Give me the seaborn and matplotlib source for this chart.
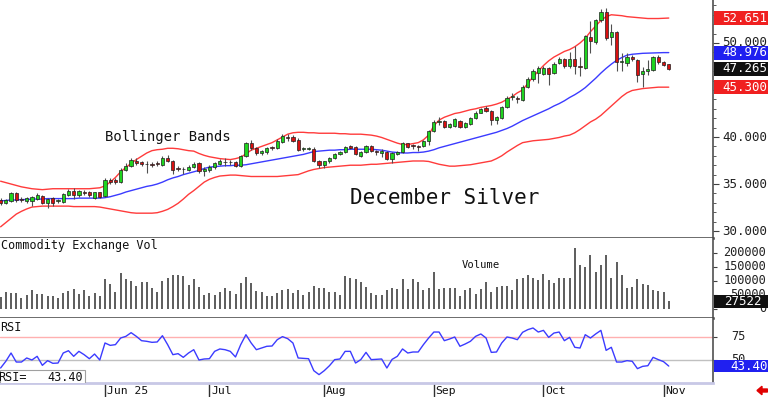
import numpy as np
import pandas as pd
import matplotlib
matplotlib.use("Agg")
import matplotlib.pyplot as plt
from matplotlib.patches import Rectangle, FancyArrow
import seaborn as sns

# ------------------------------------------------------------------
# Data (one value per trading day, May 2 .. Nov 4)
# ------------------------------------------------------------------
opens = [33.3, 32.95, 33.2, 34.0, 33.4, 33.2, 33.2, 33.4, 33.7, 33.0,
         33.5, 33.2, 33.1, 33.8, 34.3, 33.8, 34.2, 34.1, 33.5, 34.1,
         33.7, 35.4, 35.4, 35.2, 36.5, 36.9, 37.5, 37.3, 37.15, 37.1,
         37.2, 37.0, 37.8, 37.5, 36.7, 36.6, 36.5, 36.8, 37.2, 36.4,
         36.5, 36.8, 37.1, 37.35, 37.3, 37.3, 36.9, 38.0, 39.4, 38.8,
         38.3, 38.4, 38.9, 38.8, 39.5, 40.0, 40.0, 39.7, 38.7, 38.75,
         38.7, 37.5, 37.0, 37.4, 37.8, 38.2, 38.4, 39.0, 38.9, 38.0,
         38.4, 39.0, 38.45, 38.3, 38.4, 37.7, 38.2, 38.4, 39.35, 39.1,
         39.0, 39.0, 39.6, 40.6, 41.6, 41.7, 41.1, 41.2, 41.75, 41.1,
         41.4, 42.0, 42.6, 43.1, 42.8, 41.8, 42.0, 43.2, 44.3, 44.2,
         43.9, 45.3, 46.2, 46.8, 46.7, 47.3, 46.8, 47.9, 48.3, 47.6,
         48.3, 47.5, 47.3, 50.6, 50.1, 52.4, 53.3, 50.6, 51.2, 47.95,
         47.9, 48.5, 48.2, 46.7, 47.0, 47.1, 48.5, 48.0, 47.75]
closes = [32.95, 33.3, 34.0, 33.25, 33.3, 33.5, 33.6, 33.8, 32.95, 33.4,
          33.0, 33.25, 33.9, 34.3, 33.8, 34.3, 34.0, 33.8, 34.1, 33.6,
          35.4, 35.2, 35.2, 36.5, 36.9, 37.6, 37.2, 37.1, 37.1, 37.0,
          37.15, 37.8, 37.5, 36.5, 36.65, 36.55, 36.8, 37.1, 36.35, 36.6,
          36.85, 37.2, 37.5, 37.3, 37.3, 36.9, 38.0, 39.4, 38.8, 38.3,
          38.5, 38.8, 38.8, 39.6, 40.1, 39.9, 39.6, 38.65, 38.8, 38.8,
          37.5, 37.0, 37.4, 37.8, 38.2, 38.4, 38.9, 38.85, 38.2, 38.4,
          39.0, 38.5, 38.4, 38.5, 37.7, 38.3, 38.4, 39.35, 38.9, 39.05,
          38.95, 39.6, 40.6, 41.6, 41.7, 41.1, 41.4, 41.9, 41.1, 41.5,
          42.0, 42.6, 43.0, 42.8, 41.8, 42.1, 43.2, 44.2, 44.4, 44.0,
          45.3, 46.2, 47.05, 47.3, 47.3, 46.7, 47.8, 48.3, 47.6, 48.3,
          47.5, 47.45, 50.7, 50.2, 52.4, 53.3, 50.5, 51.2, 48.0, 48.0,
          48.5, 48.3, 46.6, 47.0, 47.2, 48.5, 47.95, 47.7, 47.265]
highs = [33.5, 33.4, 34.1, 34.1, 33.6, 33.6, 33.7, 34.0, 33.8, 33.5,
         33.6, 33.4, 34.0, 34.5, 34.6, 34.4, 34.4, 34.3, 34.2, 34.2,
         35.6, 35.6, 35.6, 36.7, 37.2, 37.8, 37.8, 37.4, 37.4, 37.3,
         37.4, 38.0, 38.1, 37.6, 36.9, 36.8, 37.0, 37.3, 37.3, 36.8,
         37.0, 37.3, 37.7, 37.8, 37.6, 37.4, 38.1, 39.5, 39.7, 38.9,
         38.6, 38.9, 39.0, 39.8, 40.3, 40.3, 40.2, 39.9, 38.9, 38.9,
         38.9, 37.6, 37.5, 37.9, 38.3, 38.5, 39.0, 39.2, 39.0, 38.5,
         39.1, 39.1, 38.6, 38.7, 38.5, 38.4, 38.5, 39.5, 39.4, 39.3,
         39.2, 39.7, 40.7, 41.8, 42.1, 41.8, 41.5, 42.0, 41.8, 41.6,
         42.1, 42.8, 43.1, 43.3, 42.9, 42.2, 43.3, 44.4, 44.7, 44.4,
         45.5, 46.4, 47.2, 47.5, 47.5, 47.4, 48.0, 48.5, 48.4, 49.0,
         49.7, 48.5, 50.9, 52.3, 52.6, 53.6, 53.7, 52.0, 51.3, 48.9,
         48.9, 48.7, 48.3, 47.4, 48.2, 48.6, 48.7, 48.1, 47.8]
lows = [32.8, 32.9, 33.1, 33.1, 33.1, 33.0, 32.7, 33.3, 32.9, 32.4,
        32.7, 33.0, 33.0, 33.7, 33.4, 33.6, 33.8, 33.6, 33.4, 33.5,
        33.6, 35.0, 35.0, 35.1, 36.4, 36.8, 37.0, 36.9, 36.2, 36.8,
        36.9, 36.9, 37.3, 36.1, 36.4, 36.1, 36.4, 36.7, 36.2, 35.9,
        36.3, 36.6, 37.0, 36.9, 37.0, 36.8, 36.8, 37.9, 38.6, 38.1,
        38.1, 38.2, 38.6, 38.7, 39.4, 39.6, 39.5, 38.5, 38.5, 38.6,
        37.3, 36.7, 36.7, 37.2, 37.7, 38.1, 38.3, 38.7, 38.1, 37.9,
        38.3, 38.4, 38.1, 37.9, 37.6, 37.2, 38.1, 38.3, 38.8, 38.7,
        38.5, 38.9, 39.2, 40.5, 41.3, 41.0, 41.0, 41.1, 41.0, 41.0,
        41.3, 41.9, 42.5, 42.7, 41.3, 41.4, 41.9, 43.1, 43.9, 43.6,
        43.8, 45.2, 46.0, 45.7, 46.6, 45.5, 46.7, 47.8, 47.3, 47.3,
        46.7, 46.5, 47.2, 48.9, 49.9, 52.2, 50.3, 49.8, 47.0, 47.0,
        47.5, 48.1, 45.9, 45.3, 46.6, 47.0, 47.8, 47.5, 47.1]

bb_upper = [35.3, 35.15, 35.0, 34.85, 34.7, 34.6, 34.5, 34.45, 34.4, 34.45,
            34.5, 34.5, 34.5, 34.5, 34.5, 34.5, 34.5, 34.5, 34.55, 34.6,
            34.8, 35.2, 35.7, 36.3, 36.75, 37.2, 37.6, 37.95, 38.3, 38.55,
            38.65, 38.7, 38.8, 38.8, 38.75, 38.65, 38.55, 38.5, 38.25, 38.05,
            37.9, 37.8, 37.7, 37.65, 37.6, 37.7, 37.85, 38.2, 38.6, 38.8,
            39.0, 39.2, 39.4, 39.7, 40.0, 40.3, 40.45, 40.5, 40.5, 40.45,
            40.45, 40.4, 40.4, 40.4, 40.4, 40.35, 40.35, 40.3, 40.3, 40.3,
            40.25, 40.2, 40.1, 39.95, 39.75, 39.55, 39.35, 39.2, 39.2, 39.3,
            39.4, 39.7, 40.2, 41.2, 41.8, 42.1, 42.3, 42.5, 42.6, 42.75,
            42.9, 43.0, 43.15, 43.25, 43.35, 43.5, 43.7, 44.0, 44.3, 44.7,
            45.0, 45.7, 46.4, 47.0, 47.6, 48.1, 48.5, 48.8, 49.1, 49.3,
            49.6, 50.0, 50.5, 51.2, 51.8, 52.4, 52.8, 53.0, 52.95, 52.9,
            52.8, 52.75, 52.7, 52.65, 52.6, 52.6, 52.6, 52.62, 52.651]
bb_mid = [33.2, 33.25, 33.3, 33.3, 33.35, 33.35, 33.4, 33.4, 33.4, 33.45,
          33.45, 33.45, 33.45, 33.45, 33.45, 33.5, 33.5, 33.5, 33.5, 33.5,
          33.55, 33.65, 33.8, 33.95, 34.15, 34.3, 34.45, 34.6, 34.75, 34.85,
          35.0, 35.2, 35.45, 35.65, 35.8, 36.0, 36.15, 36.3, 36.45, 36.65,
          36.8, 36.85, 36.9, 36.95, 36.95, 37.0, 37.0, 37.05, 37.15, 37.25,
          37.35, 37.45, 37.55, 37.65, 37.75, 37.85, 37.95, 38.05, 38.15, 38.3,
          38.45, 38.5, 38.55, 38.6, 38.6, 38.65, 38.65, 38.7, 38.7, 38.7,
          38.7, 38.7, 38.65, 38.6, 38.5, 38.4, 38.35, 38.3, 38.3, 38.35,
          38.35, 38.4, 38.5, 38.65, 38.85, 39.0, 39.15, 39.3, 39.45, 39.6,
          39.75, 39.9, 40.05, 40.2, 40.35, 40.5, 40.7, 40.9, 41.15, 41.45,
          41.75, 42.0, 42.25, 42.5, 42.75, 43.0, 43.3, 43.55, 43.85, 44.2,
          44.5, 44.85, 45.25, 45.75, 46.25, 46.8, 47.3, 47.75, 48.15, 48.45,
          48.7, 48.8, 48.85, 48.9, 48.92, 48.95, 48.97, 48.975, 48.976]
bb_lower = [30.45, 30.9, 31.35, 31.8, 32.1, 32.35, 32.55, 32.6, 32.65, 32.65,
            32.65, 32.65, 32.65, 32.65, 32.6, 32.6, 32.6, 32.6, 32.6, 32.55,
            32.45, 32.35, 32.25, 32.15, 32.05, 31.95, 31.9, 31.9, 31.9, 31.9,
            31.95, 32.1, 32.3, 32.6, 32.95, 33.4, 33.9, 34.3, 34.75, 35.2,
            35.5, 35.7, 35.85, 35.9, 35.95, 35.95, 35.9, 35.85, 35.8, 35.8,
            35.8, 35.8, 35.8, 35.8, 35.85, 35.9, 35.95, 36.0, 36.2, 36.4,
            36.55, 36.65, 36.75, 36.8, 36.85, 36.9, 36.95, 37.0, 37.0, 37.0,
            37.05, 37.1, 37.1, 37.15, 37.2, 37.25, 37.3, 37.35, 37.4, 37.45,
            37.45, 37.45, 37.4, 37.25, 37.1, 37.0, 36.9, 36.9, 36.95, 37.0,
            37.05, 37.15, 37.25, 37.35, 37.45, 37.7, 38.0, 38.4, 38.75, 39.1,
            39.4, 39.5, 39.6, 39.65, 39.7, 39.75, 39.85, 39.95, 40.1, 40.2,
            40.45, 40.8, 41.2, 41.6, 41.9, 42.3, 42.8, 43.3, 43.8, 44.3,
            44.7, 44.95, 45.05, 45.15, 45.2, 45.25, 45.3, 45.3, 45.3]

volumes = [42000, 59000, 55000, 55000, 40000, 50000, 67000, 52000, 52000, 47000,
           46000, 38000, 55000, 64000, 71000, 52000, 67000, 46000, 55000, 46000,
           106000, 87000, 61000, 126000, 105000, 100000, 83000, 97000, 97000, 73000,
           59000, 99000, 109000, 120000, 120000, 118000, 85000, 106000, 77000, 50000,
           55000, 50000, 61000, 75000, 64000, 52000, 91000, 112000, 91000, 64000,
           59000, 47000, 47000, 58000, 67000, 70000, 58000, 67000, 50000, 61000,
           83000, 75000, 75000, 59000, 59000, 50000, 118000, 109000, 106000, 97000,
           79000, 55000, 50000, 50000, 67000, 75000, 71000, 106000, 71000, 106000,
           94000, 67000, 75000, 132000, 71000, 75000, 75000, 73000, 47000, 66000,
           75000, 52000, 71000, 94000, 61000, 79000, 83000, 83000, 68000, 106000,
           109000, 120000, 111000, 103000, 123000, 103000, 91000, 111000, 111000, 109000,
           215000, 156000, 147000, 191000, 132000, 156000, 191000, 111000, 168000, 120000,
           75000, 79000, 106000, 87000, 85000, 67000, 64000, 59000, 27522]

rsi_vals = [41.3, 48.6, 57.6, 47.8, 47.8, 52.2, 50.0, 54.0, 44.2, 49.3,
            46.4, 46.7, 57.6, 60.1, 54.0, 59.4, 55.8, 51.4, 56.5, 50.0,
            68.5, 65.9, 66.7, 73.9, 75.7, 79.7, 75.7, 71.0, 70.3, 69.2,
            69.6, 76.4, 66.7, 55.8, 56.9, 52.9, 57.6, 61.2, 50.0, 51.1,
            51.4, 59.4, 62.0, 61.2, 59.4, 53.3, 66.7, 77.5, 68.5, 61.2,
            63.0, 64.9, 65.2, 72.1, 75.4, 73.2, 68.5, 52.2, 51.8, 51.4,
            38.4, 34.1, 38.4, 43.8, 50.4, 51.1, 59.4, 59.4, 46.7, 50.4,
            58.3, 50.4, 50.7, 51.1, 41.3, 50.7, 54.0, 62.0, 57.6, 58.7,
            58.7, 66.7, 73.9, 80.4, 80.4, 71.0, 72.8, 75.0, 64.9, 67.4,
            70.3, 75.7, 78.3, 73.9, 58.3, 58.7, 68.5, 75.0, 73.9, 72.1,
            80.1, 83.0, 84.8, 80.4, 82.2, 74.6, 79.3, 80.4, 71.0, 74.6,
            63.8, 63.0, 77.5, 73.9, 78.3, 82.2, 60.5, 63.8, 47.8, 47.8,
            49.3, 48.6, 40.6, 43.1, 43.8, 52.9, 50.4, 48.2, 43.4]

month_pos = [20, 40, 62, 83, 104, 127]
month_labels = ["Jun 25", "Jul", "Aug", "Sep", "Oct", "Nov"]

price_ticks = [30, 35, 40, 45, 50]
price_labelled = [30, 35, 40, 50]   # 45.000 sits under the 45.300 box
vol_ticks = [0, 50000, 100000, 150000, 200000]
rsi_ticks = [50, 75]

df = pd.DataFrame({
    "bar": np.arange(len(closes)),
    "open": opens, "high": highs, "low": lows, "close": closes,
    "upper": bb_upper, "mid": bb_mid, "lower": bb_lower,
    "volume": volumes, "rsi": rsi_vals,
})

# ------------------------------------------------------------------
# Style
# ------------------------------------------------------------------
sns.set_style("white")
plt.rcParams["font.family"] = ["DejaVu Sans Mono", "DejaVu Sans"]

W, H = 768, 397
fig = plt.figure(figsize=(W / 100, H / 100), dpi=100)
fig.patch.set_facecolor("white")

plot_w = 713 / W
ax = fig.add_axes([0, 1 - 238 / H, plot_w, 238 / H])
ax_v = fig.add_axes([0, 1 - 318 / H, plot_w, 80 / H])
ax_r = fig.add_axes([0, 1 - 383 / H, plot_w, 65 / H])

xlim = (-0.6 / 5.22, (713 - 0.6) / 5.22)
for a in (ax, ax_v, ax_r):
    a.set_xlim(*xlim)
    a.set_facecolor("white")
    a.set_xticks([])
    for s in a.spines.values():
        s.set_visible(False)
    a.spines["right"].set_visible(True)
    a.spines["right"].set_color("#505050")
    a.spines["right"].set_linewidth(1.2)

ax.set_ylim(29.26, 54.57)
ax_v.set_ylim(-9 * 3540, 71 * 3540)
ax_r.set_ylim(25, 95.65)

edge_col = "#404040"

# ------------------------------------------------------------------
# Price panel: Bollinger bands + candles
# ------------------------------------------------------------------
sns.lineplot(data=df, x="bar", y="upper", ax=ax, color="#ff3b3b", linewidth=1.0, legend=False)
sns.lineplot(data=df, x="bar", y="lower", ax=ax, color="#ff3b3b", linewidth=1.0, legend=False)
sns.lineplot(data=df, x="bar", y="mid", ax=ax, color="#3b3bff", linewidth=1.0, legend=False)

up = df["close"] >= df["open"]
body_col = np.where(up, "#1fd41f", "#d81010")
ax.vlines(df["bar"], df["low"], df["high"], color="#505050", linewidth=0.8, zorder=3)
body_h = np.maximum((df["close"] - df["open"]).abs(), 0.08)
ax.bar(df["bar"], body_h, bottom=np.minimum(df["open"], df["close"]),
       width=0.62, color=body_col, edgecolor="#202020", linewidth=0.5, zorder=4)
ax.set_xlim(*xlim)
ax.set_xlabel("")
ax.set_ylabel("")

ax.spines["bottom"].set_visible(True)
ax.spines["bottom"].set_color(edge_col)
ax.spines["bottom"].set_linewidth(1.8)

ax.text(20.0, 40.0, "Bollinger Bands", fontsize=10, color="#111111", va="center", ha="left")
ax.text(66.9, 33.5, "December Silver", fontsize=15, color="#111111", va="center", ha="left")

# right side scale
ax.yaxis.tick_right()
ax.set_yticks(price_ticks)
ax.yaxis.set_minor_locator(matplotlib.ticker.MultipleLocator(1))
ax.tick_params(axis="y", which="major", direction="out", length=4, color=edge_col,
               labelright=False, labelleft=False)
ax.tick_params(axis="y", which="minor", direction="out", length=2, color=edge_col)
ytr = ax.get_yaxis_transform()
for v in price_labelled:
    ax.text(722 / 713, v, f"{v:.3f}", transform=ytr, fontsize=9, color="#202020",
            va="center", ha="left", clip_on=False, zorder=5)


def value_box(a, v, h, txt, fc, tx=722 / 713):
    tr = a.get_yaxis_transform()
    a.add_patch(Rectangle((714 / 713, v - h / 2), 54 / 713, h, transform=tr,
                          facecolor=fc, edgecolor="none", clip_on=False, zorder=8))
    a.text(tx, v, txt, transform=tr, fontsize=9, color="white", va="center",
           ha="left", clip_on=False, zorder=9)


value_box(ax, bb_upper[-1], 1.5, f"{bb_upper[-1]:.3f}", "#f02020")
value_box(ax, bb_mid[-1], 1.5, f"{bb_mid[-1]:.3f}", "#2020f0")
value_box(ax, closes[-1], 1.5, f"{closes[-1]:.3f}", "#101010")
value_box(ax, bb_lower[-1], 1.5, f"{bb_lower[-1]:.3f}", "#f02020")

# ------------------------------------------------------------------
# Volume panel
# ------------------------------------------------------------------
ax_v.vlines(df["bar"], 0, df["volume"], color="#303030", linewidth=1.1)
ax_v.spines["bottom"].set_visible(True)
ax_v.spines["bottom"].set_color(edge_col)
ax_v.spines["bottom"].set_linewidth(1.8)
ax_v.yaxis.tick_right()
ax_v.set_yticks(vol_ticks)
ax_v.tick_params(axis="y", direction="out", length=3, color=edge_col,
                 labelright=False, labelleft=False)
vtr = ax_v.get_yaxis_transform()
for v in vol_ticks:
    ax_v.text(766 / 713, v, f"{v}", transform=vtr, fontsize=8.6, color="#202020",
              va="center", ha="right", clip_on=False, zorder=5)
value_box(ax_v, volumes[-1], 46000, f"{volumes[-1]}", "#101010", tx=724 / 713)
ax_v.text(0.002, 0.9, "Commodity Exchange Vol", transform=ax_v.transAxes,
          fontsize=8.5, color="#111111", va="center", ha="left")
ax_v.text(462 / 713, 0.66, "Volume", transform=ax_v.transAxes,
          fontsize=7.6, color="#111111", va="center", ha="left")

# ------------------------------------------------------------------
# RSI panel
# ------------------------------------------------------------------
ax_r.axhline(75, color="#ffb0b0", linewidth=1.0, zorder=1)
ax_r.axhline(50, color="#c0c0c0", linewidth=1.0, zorder=1)
sns.lineplot(data=df, x="bar", y="rsi", ax=ax_r, color="#3b3bff", linewidth=1.0, legend=False)
ax_r.set_xlim(*xlim)
ax_r.set_xlabel("")
ax_r.set_ylabel("")
ax_r.spines["bottom"].set_visible(True)
ax_r.spines["bottom"].set_color("#c8c8e6")
ax_r.spines["bottom"].set_linewidth(2.0)
ax_r.yaxis.tick_right()
ax_r.set_yticks(rsi_ticks)
ax_r.tick_params(axis="y", direction="out", length=3, color=edge_col,
                 labelright=False, labelleft=False)
rtr = ax_r.get_yaxis_transform()
for v in rsi_ticks:
    ax_r.text(731 / 713, v, f"{v}", transform=rtr, fontsize=8.6, color="#202020",
              va="center", ha="left", clip_on=False, zorder=5)
value_box(ax_r, rsi_vals[-1], 13, f"{rsi_vals[-1]:.2f}", "#2020f0", tx=730 / 713)
ax_r.text(0.0, 0.86, "RSI", transform=ax_r.transAxes, fontsize=8.5,
          color="#111111", va="center", ha="left")
ax_r.add_patch(Rectangle((0, -0.02), 85 / 713, 0.22, transform=ax_r.transAxes,
                         facecolor="white", edgecolor="#a0a0a0", linewidth=0.8, zorder=6))
ax_r.text(-0.002, 0.09, "RSI=", transform=ax_r.transAxes, fontsize=8.5,
          color="#111111", va="center", ha="left", zorder=7)
ax_r.text(83 / 713, 0.09, f"{rsi_vals[-1]:.2f}", transform=ax_r.transAxes, fontsize=8.5,
          color="#111111", va="center", ha="right", zorder=7)

# month ticks and labels under the RSI panel
xtr = ax_r.get_xaxis_transform()
for pos, lab in zip(month_pos, month_labels):
    ax_r.plot([pos, pos], [0, -14 / 65], transform=xtr, color="#303030",
              linewidth=1.0, clip_on=False)
    ax_r.text(pos + 0.35, -7.5 / 65, lab, transform=xtr, fontsize=8.2,
              color="#111111", va="center", ha="left", clip_on=False)

# little red arrow bottom right
fig.add_artist(FancyArrow(7.675, 0.065, -0.105, 0, width=0.03, head_width=0.085,
                          head_length=0.05, length_includes_head=True,
                          color="#e00000", transform=fig.dpi_scale_trans))

fig.savefig("out.png", dpi=100)
